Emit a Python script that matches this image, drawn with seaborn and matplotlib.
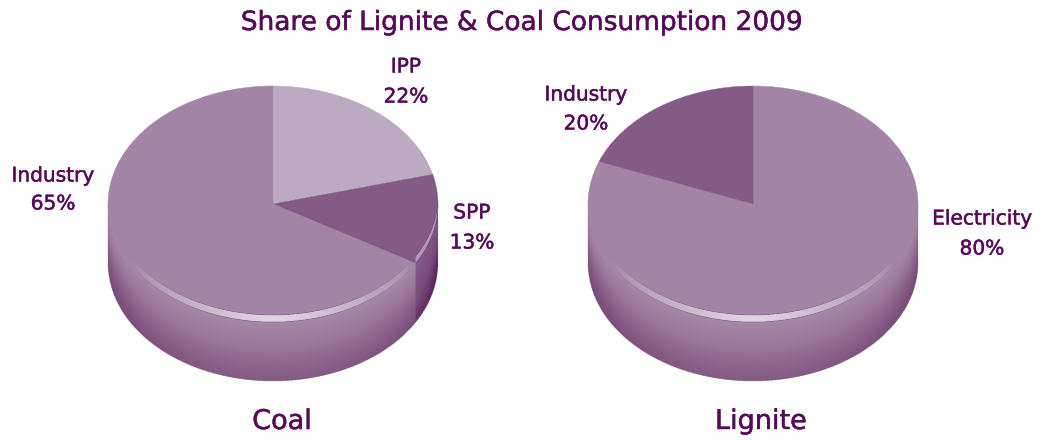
import numpy as np
import matplotlib
matplotlib.use("Agg")
import matplotlib.pyplot as plt
import matplotlib.patheffects as pe
import seaborn as sns

# Data
coal_labels = ["IPP", "SPP", "Industry"]
coal_values = [22, 13, 65]
lignite_labels = ["Electricity", "Industry"]
lignite_values = [80, 20]

# Styling
coal_colors = ["#bbaac1", "#835b84", "#a285a5"]
lignite_colors = ["#a285a5", "#835b84"]
text_color = "#560a58"
W, H = 1039, 441
rx, ry = 165, 118
depth = 0.5
pad_x, bottom = 1.06, -1.6

sns.set_theme(style="white")
plt.rcParams["font.family"] = ["DejaVu Sans"]

wall_medium = sns.blend_palette(["#a688a7", "#987599", "#875c85", "#784a78"], as_cmap=True)
wall_dark = sns.blend_palette(["#84588a", "#7a4c7c", "#5c2660"], as_cmap=True)

fig = plt.figure(figsize=(W / 100, H / 100), dpi=100, facecolor="white")


def view_angle(theta):
    # the picture is in perspective, so slices do not keep their exact angle on screen
    phi = np.radians(90 - theta)
    return theta + 4.6 * np.sin(phi) - 2.2 * np.sin(2 * phi)


def draw_pie(cx, values, colors):
    left = (cx - pad_x * rx) / W
    top_px = 204 - pad_x * ry
    height_px = (pad_x - bottom) * ry
    ax = fig.add_axes([left, 1 - (top_px + height_px) / H, 2 * pad_x * rx / W, height_px / H])
    wedges, _ = ax.pie(values, colors=colors, startangle=90, counterclock=False,
                       radius=1, wedgeprops={"linewidth": 0.3, "zorder": 3})
    for w, c in zip(wedges, colors):
        t1, t2 = w.theta1, w.theta2
        w.set_theta1(view_angle(t1))
        w.set_theta2(view_angle(t2))
        w.set_edgecolor(c)
    ax.set_aspect("auto")

    # grid for the side wall and the rim highlight
    xs = np.linspace(-pad_x, pad_x, int(2 * pad_x * rx * 3))
    ys = np.linspace(pad_x, bottom, int((pad_x - bottom) * ry * 3))
    X, Y = np.meshgrid(xs, ys)
    rim = -np.sqrt(np.clip(1 - X ** 2, 0, 1))
    inside = np.abs(X) <= 1
    angle = -np.degrees(np.arccos(np.clip(X, -1, 1)))
    t0 = np.clip((rim - Y) / depth, 0, 1)
    t = np.clip(t0 * 0.72 * (1 + 0.5 * np.abs(X) ** 3), 0, 1)

    wall = np.zeros(X.shape + (4,))
    crescent = np.zeros(X.shape + (4,))
    in_face = X ** 2 + Y ** 2 <= 1
    in_upper = X ** 2 + (Y - 0.06) ** 2 <= 1
    band = in_face & ~in_upper
    for w, c in zip(wedges, colors):
        span = (angle - w.theta1) % 360 <= (w.theta2 - w.theta1)
        mask = inside & span & (Y <= 0) & (Y >= rim - depth)
        dark = c == "#835b84"
        cmap = wall_dark if dark else wall_medium
        # the darker wall also gets darker towards its outer edge
        shade = np.clip(t0 * 0.9 + 0.45 * np.abs(X) ** 8 - 0.2, 0, 1) if dark else t
        rgba = cmap(shade)
        rgba[..., 3] = 1
        wall[mask] = rgba[mask]
        fade = np.clip(1 - np.abs(X) / 0.85, 0, 1) ** 0.7
        alpha = np.maximum(fade, 0.5) if dark else fade
        hl = band & span
        crescent[hl, :3] = matplotlib.colors.to_rgb("#e2d8e6")
        crescent[hl, 3] = np.clip(alpha, 0, 1)[hl]

    extent = (-pad_x, pad_x, bottom, pad_x)
    ax.imshow(wall, extent=extent, aspect="auto", zorder=1,
              interpolation="hanning", interpolation_stage="rgba")
    ax.imshow(crescent, extent=extent, aspect="auto", zorder=4,
              interpolation="hanning", interpolation_stage="rgba")
    ax.set_xlim(-pad_x, pad_x)
    ax.set_ylim(bottom, pad_x)
    ax.axis("off")
    return ax


draw_pie(273, coal_values, coal_colors)
draw_pie(753, lignite_values, lignite_colors)


def put(x, y, s, size):
    txt = fig.text(x / W, 1 - y / H, s, color=text_color, fontsize=size, ha="center", va="center")
    # the original lettering is a little heavier than DejaVu regular
    txt.set_path_effects([pe.withStroke(linewidth=0.35, foreground=text_color)])


put(522, 23, "Share of Lignite & Coal Consumption 2009", 19)

label_size = 14.5
coal_pos = [(406, 67, 97), (472, 213, 243), (53, 176, 204)]
for name, val, (x, y1, y2) in zip(coal_labels, coal_values, coal_pos):
    put(x, y1, name, label_size)
    put(x, y2, f"{val}%", label_size)

lignite_pos = [(982, 219, 249), (586, 95, 124)]
for name, val, (x, y1, y2) in zip(lignite_labels, lignite_values, lignite_pos):
    put(x, y1, name, label_size)
    put(x, y2, f"{val}%", label_size)

put(282, 422, "Coal", 19.5)
put(761, 422, "Lignite", 19.5)

fig.savefig("out.png", dpi=100)
